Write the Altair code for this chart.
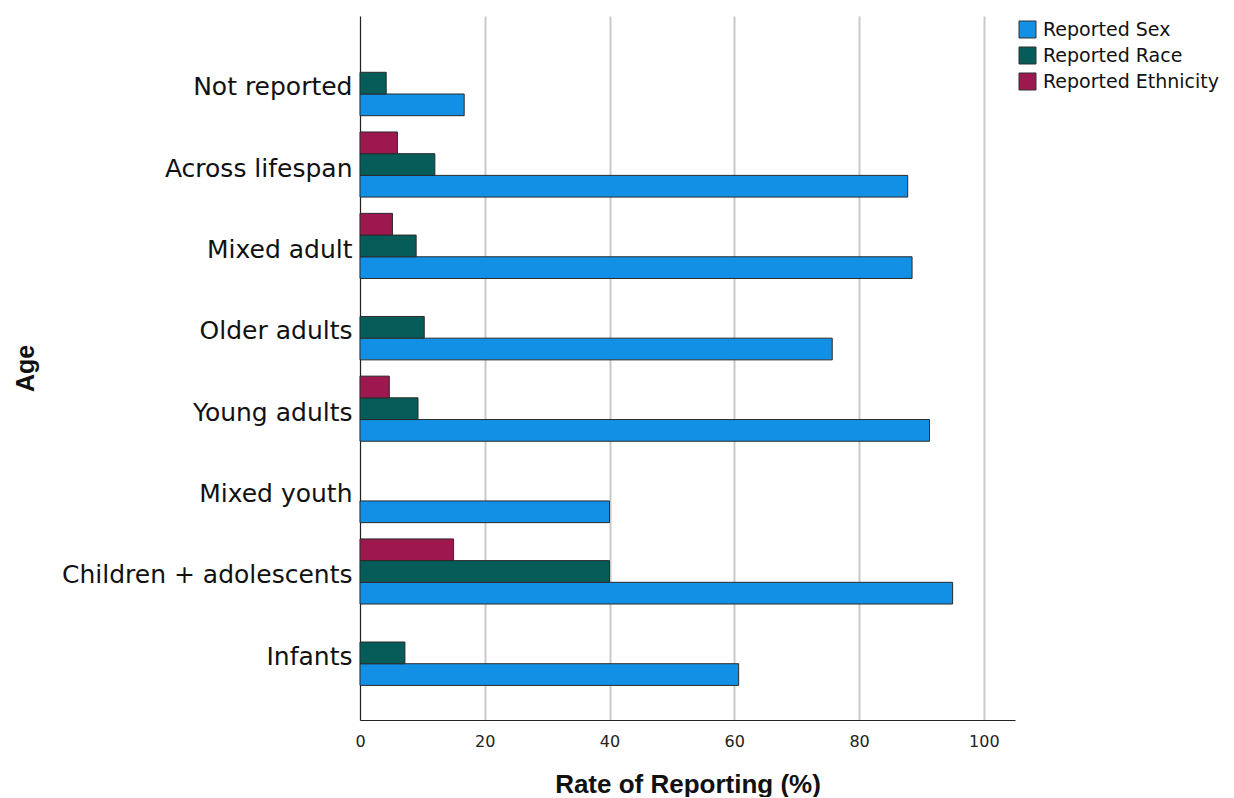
import altair as alt
import pandas as pd

categories = ["Not reported", "Across lifespan", "Mixed adult", "Older adults",
              "Young adults", "Mixed youth", "Children + adolescents", "Infants"]
sex = [16.7, 87.8, 88.5, 75.7, 91.3, 40.0, 95.0, 60.7]
race = [4.2, 12.0, 9.0, 10.3, 9.3, 0.0, 40.0, 7.2]
ethnicity = [0.0, 6.0, 5.2, 0.0, 4.7, 0.0, 15.0, 0.0]

series = ["Reported Sex", "Reported Race", "Reported Ethnicity"]
colors = ["#1190E6", "#055C59", "#9E1850"]
offset_order = ["Reported Ethnicity", "Reported Race", "Reported Sex"]
x_ticks = [0, 20, 40, 60, 80, 100]

rows = []
for i, c in enumerate(categories):
    for s, vals in zip(series, [sex, race, ethnicity]):
        if vals[i] > 0:
            rows.append({"Age": c, "Series": s, "Rate": vals[i]})
df = pd.DataFrame(rows)

chart = alt.Chart(df).mark_bar(stroke="#2b2b2b", strokeWidth=1).encode(
    y=alt.Y("Age:N", sort=categories,
            scale=alt.Scale(paddingInner=0.2, paddingOuter=0.425),
            axis=alt.Axis(title="Age", ticks=False, labelFontSize=25,
                          labelFont="DejaVu Sans", labelColor="#111",
                          labelLimit=500, labelOffset=4,
                          labelPadding=8, domainColor="#222", domainWidth=1,
                          titleFont="Liberation Sans", titleFontSize=25,
                          titleFontWeight="bold", titleColor="#111",
                          titlePadding=122)),
    yOffset=alt.YOffset("Series:N", sort=offset_order,
                        scale=alt.Scale(domain=offset_order, paddingInner=0, paddingOuter=0)),
    x=alt.X("Rate:Q", scale=alt.Scale(domain=[0, 105], nice=False),
            axis=alt.Axis(title="Rate of Reporting (%)", values=x_ticks,
                          ticks=False, labelFontSize=16, labelFont="DejaVu Sans",
                          labelColor="#222", labelPadding=13, labelFlush=False,
                          grid=True, gridColor="#c9c9c9", gridWidth=2,
                          domainColor="#222", domainWidth=1,
                          titleFont="Liberation Sans", titleFontSize=26,
                          titleFontWeight="bold", titleColor="#111",
                          titlePadding=22)),
    color=alt.Color("Series:N", scale=alt.Scale(domain=series, range=colors),
                    legend=alt.Legend(title=None, orient="none", legendX=658, legendY=4,
                                      symbolType="square", symbolSize=290,
                                      symbolStrokeColor="#333", symbolStrokeWidth=1,
                                      labelFontSize=19, labelFont="DejaVu Sans",
                                      labelColor="#111", rowPadding=3,
                                      labelOffset=6, labelLimit=300)),
).properties(
    width=655, height=704,
    padding={"left": 5, "top": 8, "right": 0, "bottom": 0}
).configure_view(stroke=None).configure_axisY(
    grid=False
)

chart.save("out.html", embed_options={"renderer": "svg", "actions": False})
